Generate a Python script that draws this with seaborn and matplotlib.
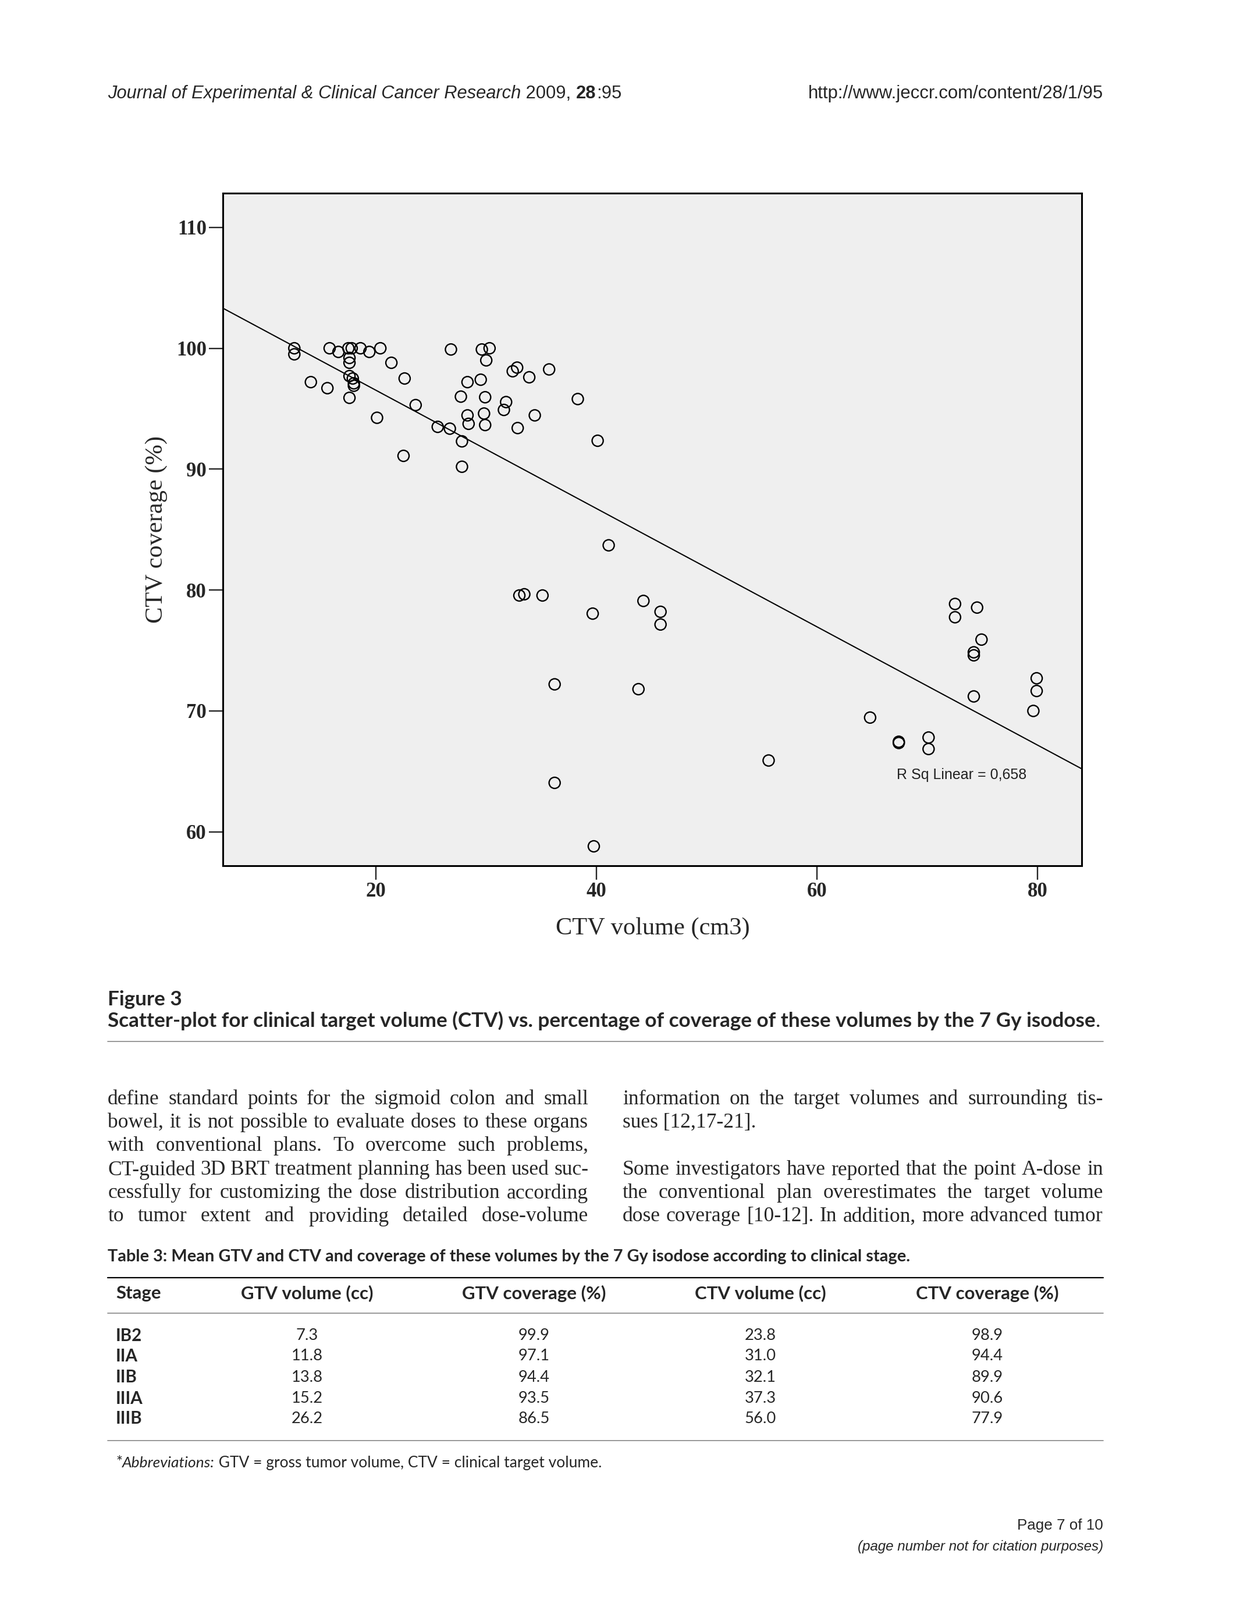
import numpy as np
import pandas as pd
import seaborn as sns
import matplotlib.pyplot as plt

# scatter data: CTV volume (cm3) and CTV coverage (%)
ctv_volume = [12.6, 12.6, 14.1, 15.6, 15.8, 16.6, 17.5, 17.8, 18.6, 17.6,
              17.6, 17.6, 17.9, 18.0, 18.0, 17.6, 19.4, 20.4, 21.4, 22.6,
              23.6, 20.1, 22.5,
              25.6, 26.7, 27.8, 27.8, 26.8, 29.6, 30.3, 30.0, 28.3, 29.5,
              27.7, 29.9, 28.3, 28.4, 29.8, 29.9, 31.8, 31.6, 32.4, 32.8,
              33.9, 32.85, 34.4, 35.7, 38.3, 40.1,
              41.1, 33.0, 33.45, 35.1, 39.65, 44.25, 45.8, 45.8, 36.2, 43.8,
              36.2, 39.75,
              55.6, 64.8, 67.4, 67.4, 70.1, 70.1, 72.5, 72.5, 74.5, 74.9,
              74.2, 74.2, 74.2, 79.9, 79.9, 79.6]
ctv_coverage = [100.0, 99.5, 97.2, 96.7, 100.0, 99.7, 100.0, 100.0, 100.0, 99.2,
                98.8, 97.7, 97.5, 97.1, 96.9, 95.9, 99.7, 100.0, 98.8, 97.5,
                95.3, 94.25, 91.1,
                93.5, 93.35, 92.3, 90.2, 99.9, 99.9, 100.0, 99.0, 97.2, 97.4,
                96.0, 95.95, 94.45, 93.75, 94.6, 93.65, 95.55, 94.9, 98.1, 98.4,
                97.6, 93.4, 94.45, 98.25, 95.8, 92.35,
                83.7, 79.55, 79.65, 79.55, 78.05, 79.1, 78.2, 77.15, 72.2, 71.8,
                64.05, 58.8,
                65.9, 69.45, 67.35, 67.45, 67.8, 66.85, 78.85, 77.75, 78.55, 75.9,
                74.85, 74.6, 71.2, 72.7, 71.65, 70.0]
x_ticks = [20, 40, 60, 80]
y_ticks = [60, 70, 80, 90, 100, 110]
r_sq_label = "R Sq Linear = 0,658"

# table 3
table_cols = ["Stage", "GTV volume (cc)", "GTV coverage (%)", "CTV volume (cc)", "CTV coverage (%)"]
stages = ["IB2", "IIA", "IIB", "IIIA", "IIIB"]
gtv_volume = ["7.3", "11.8", "13.8", "15.2", "26.2"]
gtv_coverage = ["99.9", "97.1", "94.4", "93.5", "86.5"]
ctv_volume_mean = ["23.8", "31.0", "32.1", "37.3", "56.0"]
ctv_coverage_mean = ["98.9", "94.4", "89.9", "90.6", "77.9"]

left_col = ["define standard points for the sigmoid colon and small",
            "bowel, it is not possible to evaluate doses to these organs",
            "with conventional plans. To overcome such problems,",
            "CT-guided 3D BRT treatment planning has been used suc-",
            "cessfully for customizing the dose distribution according",
            "to tumor extent and providing detailed dose-volume"]
right_col = ["information on the target volumes and surrounding tis-",
             "sues [12,17-21].",
             "",
             "Some investigators have reported that the point A-dose in",
             "the conventional plan overestimates the target volume",
             "dose coverage [10-12]. In addition, more advanced tumor"]

df = pd.DataFrame({"volume": ctv_volume, "coverage": ctv_coverage})

sns.set_style("ticks")
fig = plt.figure(figsize=(21.19, 27.5), dpi=100)
renderer = fig.canvas.get_renderer()

# page layout is measured on a 1224 x 1584 grid
W, H = 1224.0, 1584.0
SC = 2119 / W


def fx(x):
    return x / W


def fy(y):
    return 1 - y / H


def text_w(s, **kw):
    t = fig.text(0, 0, "|" + s + "|", **kw)
    w1 = t.get_window_extent(renderer).width
    t.set_text("||")
    w2 = t.get_window_extent(renderer).width
    t.remove()
    return w1 - w2


def put(x, y, s, target=None, **kw):
    if target is not None:
        size = kw.pop("fontsize", 20)
        w = text_w(s, fontsize=size, **kw)
        kw["fontsize"] = size * target * SC / w
    return fig.text(fx(x), fy(y), s, **kw)


def put_runs(x, y, runs, size, target=None, family="Lato"):
    if target is not None:
        total = sum(text_w(s, fontsize=size, family=family, **st) for s, st in runs)
        size = size * target * SC / total
    pos = x * SC
    for s, st in runs:
        fig.text(pos / 2119, fy(y), s, fontsize=size, family=family,
                 va="center_baseline", **st)
        pos += text_w(s, fontsize=size, family=family, **st)
    return size


def justify(x0, x1, y, line, size, family="Liberation Serif"):
    words = line.split()
    widths = [text_w(w, fontsize=size, family=family) for w in words]
    gap = ((x1 - x0) * SC - sum(widths)) / max(len(words) - 1, 1)
    pos = x0 * SC
    for w, wd in zip(words, widths):
        fig.text(pos / 2119, fy(y), w, fontsize=size, family=family, va="center_baseline")
        pos += wd + gap


def hline(y, x0=107, x1=1095, color="#888888", lw=1.2):
    fig.add_artist(plt.Line2D([fx(x0), fx(x1)], [fy(y), fy(y)], color=color, lw=lw))


# running header
put_runs(107, 91, [("Journal of Experimental & Clinical Cancer Research", {"style": "italic"}),
                   (" 2009, ", {}), ("28", {"weight": "bold"}), (":95", {})],
         20, target=508, family="Liberation Sans")
put(1095, 91, "http://www.jeccr.com/content/28/1/95", target=292, fontsize=20,
    family="Liberation Sans", ha="right", va="center_baseline")

# scatter plot
ax = fig.add_axes([fx(221), fy(857), (1074 - 221) / W, (857 - 191) / H])
ax.set_facecolor("#efefef")
xlim = (6.1, 84.0)
ylim = (57.2, 112.85)
ax.set_xlim(xlim)
ax.set_ylim(ylim)
sns.regplot(data=df, x="volume", y="coverage", ax=ax, scatter=False, ci=None,
            truncate=False, color="black", line_kws={"linewidth": 1.5})
sns.scatterplot(data=df, x="volume", y="coverage", ax=ax, s=190, facecolor="none",
                edgecolor="black", linewidth=1.7, zorder=3)
ax.set_xlim(xlim)
ax.set_ylim(ylim)
ax.set_xticks(x_ticks)
ax.set_yticks(y_ticks)
ax.tick_params(direction="out", length=17, width=1.7, pad=3, labelsize=25)
for lab in ax.get_xticklabels() + ax.get_yticklabels():
    lab.set_fontfamily("Liberation Serif")
    lab.set_fontweight("bold")
for sp in ax.spines.values():
    sp.set_visible(True)
    sp.set_color("black")
    sp.set_linewidth(2.2)
ax.text(67.2, 64.7, r_sq_label, fontsize=18, family="Liberation Sans", color="#222222",
        ha="left", va="center")

xl_size = 29 * 193 * SC / text_w("CTV volume (cm3)", fontsize=29, family="Liberation Serif")
yl_size = 28 * 186 * SC / text_w("CTV coverage (%)", fontsize=28, family="Liberation Serif")
ax.set_xlabel("CTV volume (cm3)", fontsize=xl_size, family="Liberation Serif", va="center")
ax.set_ylabel("CTV coverage (%)", fontsize=yl_size, family="Liberation Serif", va="center")
ax.xaxis.set_label_coords((648 - 221) / 853, (857 - 919) / 666)
ax.yaxis.set_label_coords((155 - 221) / 853, 0.5)

# caption
cap_size = put_runs(107, 1009, [("Scatter-plot for clinical target volume (CTV) vs. percentage of "
                                 "coverage of these volumes by the 7 Gy isodose", {"weight": "bold"}),
                                (".", {})], 21, target=986)
fig.text(fx(107), fy(988), "Figure 3", fontsize=cap_size, family="Lato", weight="bold",
         va="center_baseline")
hline(1031)

# body text in two columns, size chosen so the longest line sets normally
body_font = "Liberation Serif"
body_size = 22.0 * min(477 * SC / text_w(l, fontsize=22.0, family=body_font)
                       for l in left_col + right_col if l)
body_y = [1086, 1109, 1132, 1156, 1179, 1202]
for y, line in zip(body_y, left_col):
    justify(107, 584, y, line, body_size, body_font)
for i, (y, line) in enumerate(zip(body_y, right_col)):
    if not line:
        continue
    if i == 1:
        fig.text(fx(618), fy(y), line, fontsize=body_size, family=body_font,
                 va="center_baseline")
    else:
        justify(618, 1095, y, line, body_size, body_font)

# table 3
put(107, 1243, "Table 3: Mean GTV and CTV and coverage of these volumes by the 7 Gy isodose "
    "according to clinical stage.", target=794, fontsize=19, family="Lato", weight="bold",
    va="center_baseline")
hline(1265, color="black", lw=1.6)
col_x = [115, 305, 530, 755, 980]
hdr_size = 20 * 131 * SC / text_w("GTV volume (cc)", fontsize=20, family="Lato", weight="bold")
for i, (cx, name) in enumerate(zip(col_x, table_cols)):
    fig.text(fx(cx), fy(1279), name, fontsize=hdr_size, family="Lato", weight="bold",
             ha="left" if i == 0 else "center", va="center_baseline")
hline(1300)
row_y = [1321, 1341, 1362, 1383, 1403]
for j, y in enumerate(row_y):
    fig.text(fx(col_x[0]), fy(y), stages[j], fontsize=hdr_size * 0.95, family="Lato",
             weight="bold", va="center_baseline")
    for cx, vals in zip(col_x[1:], [gtv_volume, gtv_coverage, ctv_volume_mean, ctv_coverage_mean]):
        fig.text(fx(cx), fy(y), vals[j], fontsize=hdr_size * 0.88, family="Lato",
                 ha="center", va="center_baseline")
hline(1426)
put_runs(115, 1447, [("*", {}), ("Abbreviations:", {"style": "italic"}),
                     (" GTV = gross tumor volume, CTV = clinical target volume.", {})],
         18, target=481)

# page footer
put(1095, 1509, "Page 7 of 10", target=85, fontsize=20, family="Liberation Sans",
    ha="right", va="center_baseline")
put(1095, 1530, "(page number not for citation purposes)", target=244, fontsize=16,
    family="Liberation Sans", style="italic", ha="right", va="center_baseline")

plt.savefig("out.png", dpi=100, facecolor="white")
